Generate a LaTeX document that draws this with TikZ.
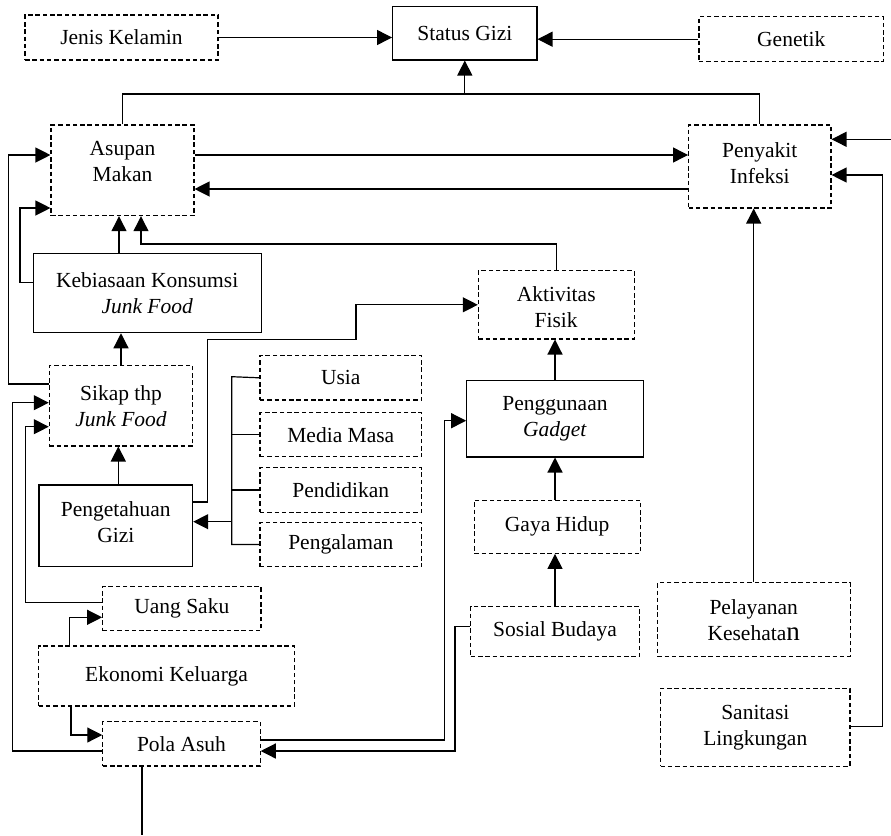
\documentclass[tikz,border=0pt]{standalone}
\usepackage{fontspec}
\setmainfont{Liberation Serif}
\usetikzlibrary{arrows.meta}
\begin{document}
\begin{tikzpicture}[x=1pt,y=-1pt,
  every node/.style={font=\fontsize{21.5}{26}\selectfont, align=center, inner sep=0pt},
  sbox/.style={draw, line width=1.1pt},
  dbox/.style={draw, line width=1.1pt, dash pattern=on 4.5pt off 2.8pt},
  conn/.style={line width=1.2pt},
  arr/.style={line width=1.2pt, -{Triangle[length=15pt,width=15pt]}}]
\useasboundingbox[fill=white] (0,0) rectangle (891,835);
% nodes
\node[dbox, minimum width=193pt, minimum height=45pt] (jk) at (121.5,37.5) {Jenis Kelamin};
\node[sbox, minimum width=144.4pt, minimum height=53.3pt] (sg) at (464.8,33.3) {Status Gizi};
\node[dbox, minimum width=184.5pt, minimum height=45pt] (gen) at (791.2,39.2) {Genetik};
\node[dbox, minimum width=143pt, minimum height=90.7pt] (am) at (122.5,170.3) {};
\node (amt) at (122.5,161.5) {Asupan\\Makan};
\node[dbox, minimum width=142.4pt, minimum height=83pt] (pi) at (759.8,166.5) {};
\node (pit) at (759.8,163) {Penyakit\\Infeksi};
\node[sbox, minimum width=227.7pt, minimum height=79.4pt] (kk) at (147.2,293) {Kebiasaan Konsumsi\\\textit{Junk Food}};
\node[dbox, minimum width=143.4pt, minimum height=80.3pt] (st) at (121,405.8) {Sikap thp\\\textit{Junk Food}};
\node[sbox, minimum width=153.7pt, minimum height=81.7pt] (pg) at (115.8,525.8) {};
\node (pgt) at (115.8,522.5) {Pengetahuan\\Gizi};
\node[dbox, minimum width=161.7pt, minimum height=44.3pt] (us) at (340.8,377.8) {Usia};
\node[dbox, minimum width=161.7pt, minimum height=44pt] (mm) at (340.8,434.7) {Media Masa};
\node[dbox, minimum width=161.7pt, minimum height=44.6pt] (pd) at (340.8,490) {Pendidikan};
\node[dbox, minimum width=161.7pt, minimum height=44.4pt] (pl) at (340.8,544.5) {Pengalaman};
\node[dbox, minimum width=155.7pt, minimum height=68.3pt] (af) at (556.2,304.8) {};
\node (aft) at (556.2,307.5) {Aktivitas\\Fisik};
\node[sbox, minimum width=176.6pt, minimum height=76.3pt] (gd) at (555,418.8) {Penggunaan\\\textit{Gadget}};
\node[dbox, minimum width=165.7pt, minimum height=53.3pt] (gh) at (557.2,526.7) {Gaya Hidup};
\node[dbox, minimum width=168.6pt, minimum height=50pt] (sb) at (555,631.7) {Sosial Budaya};
\node[dbox, minimum width=192.7pt, minimum height=74pt] (pk) at (753.7,619.7) {Pelayanan\\Kesehata{\fontsize{27}{26}\selectfont n}};
\node[dbox, minimum width=189.3pt, minimum height=77.7pt] (sl) at (755.3,727.2) {Sanitasi\\Lingkungan};
\node[dbox, minimum width=158.3pt, minimum height=44pt] (uk) at (181.8,608.7) {Uang Saku};
\node[dbox, minimum width=255.7pt, minimum height=60pt] (ek) at (166.5,676) {Ekonomi Keluarga};
\node[dbox, minimum width=157.4pt, minimum height=44.3pt] (pa) at (181.5,743.8) {Pola Asuh};
% coordinates for bends and free ends
\coordinate (jn) at (464.8,94);
\coordinate (rf) at (891,139.3);
\coordinate (sr) at (882.7,175);
\coordinate (aa) at (141,244);
\coordinate (kl) at (20,208);
\coordinate (sa) at (8.5,155);
\coordinate (b1) at (207.3,339.3);
\coordinate (b2) at (356,339.3);
\coordinate (br) at (231.7,376.7);
\coordinate (bra) at (231.7,521.7);
\coordinate (pg1) at (444.3,420.7);
\coordinate (sp) at (455,751);
\coordinate (eu) at (69.3,617.3);
\coordinate (ep) at (71,735);
\coordinate (ua) at (25.6,426.7);
\coordinate (ps) at (12.5,402.7);
\coordinate (pb) at (142,835);
% connectors
\draw[arr] (jk.east) -- (jk.east -| sg.west);
\draw[arr] (gen.west) -- (gen.west -| sg.east);
\draw[conn] (am.north) |- (jn) -| (pi.north);
\draw[arr] (jn) -- (sg.south);
\draw[arr] ([yshift=15.3pt]am.east) -- ([yshift=15.3pt]am.east -| pi.west);
\draw[arr] ([yshift=-18.7pt]am.east -| pi.west) -- ([yshift=-18.7pt]am.east);
\draw[arr] (rf) -- (rf -| pi.east);
\draw[arr] ([yshift=0.5pt]sl.east) -| (sr) -- (sr -| pi.east);
\draw[arr] (pk.north) -- (pk.north |- pi.south);
\draw[arr] ([xshift=-3.5pt]am.south |- kk.north) -- ([xshift=-3.5pt]am.south);
\draw[arr] (af.north) |- (aa) -- (aa |- am.south);
\draw[arr] ([yshift=10.3pt]kk.west) -| (kl) -- (kl -| am.west);
\draw[arr] ([yshift=21.8pt]st.west) -| (sa) -- (sa -| am.west);
\draw[arr] (st.north) -- (st.north |- kk.south);
\draw[arr] ([xshift=2.5pt]pg.north) -- ([xshift=2.5pt]pg.north |- st.south);
\draw[arr] ([yshift=23.8pt]pg.east) -| (b1) -- (b2) |- (af.west);
\draw[conn] (us.west) -- (br) |- (pl.west);
\draw[conn] (mm.west) -- (mm.west -| br);
\draw[conn] (pd.west) -- (pd.west -| br);
\draw[arr] (bra) -- (bra -| pg.east);
\draw[arr] (gd.north) -- (gd.north |- af.south);
\draw[arr] (gd.south |- gh.north) -- (gd.south);
\draw[arr] (sb.north) -- (sb.north |- gh.south);
\draw[arr] ([yshift=3.8pt]pa.east) -| (pg1) -- (pg1 -| gd.west);
\draw[arr] ([yshift=5pt]sb.west) -| (sp) -- (sp -| pa.east);
\draw[arr] (eu |- ek.north) -- (eu) -- (eu -| uk.west);
\draw[arr] (ep |- ek.south) -- (ep) -- (ep -| pa.west);
\draw[arr] ([yshift=6pt]uk.west) -| (ua) -- (ua -| st.west);
\draw[arr] ([yshift=-7.2pt]pa.west) -| (ps) -- (ps -| st.west);
\draw[conn] (pb |- pa.south) -- (pb);
\end{tikzpicture}
\end{document}
